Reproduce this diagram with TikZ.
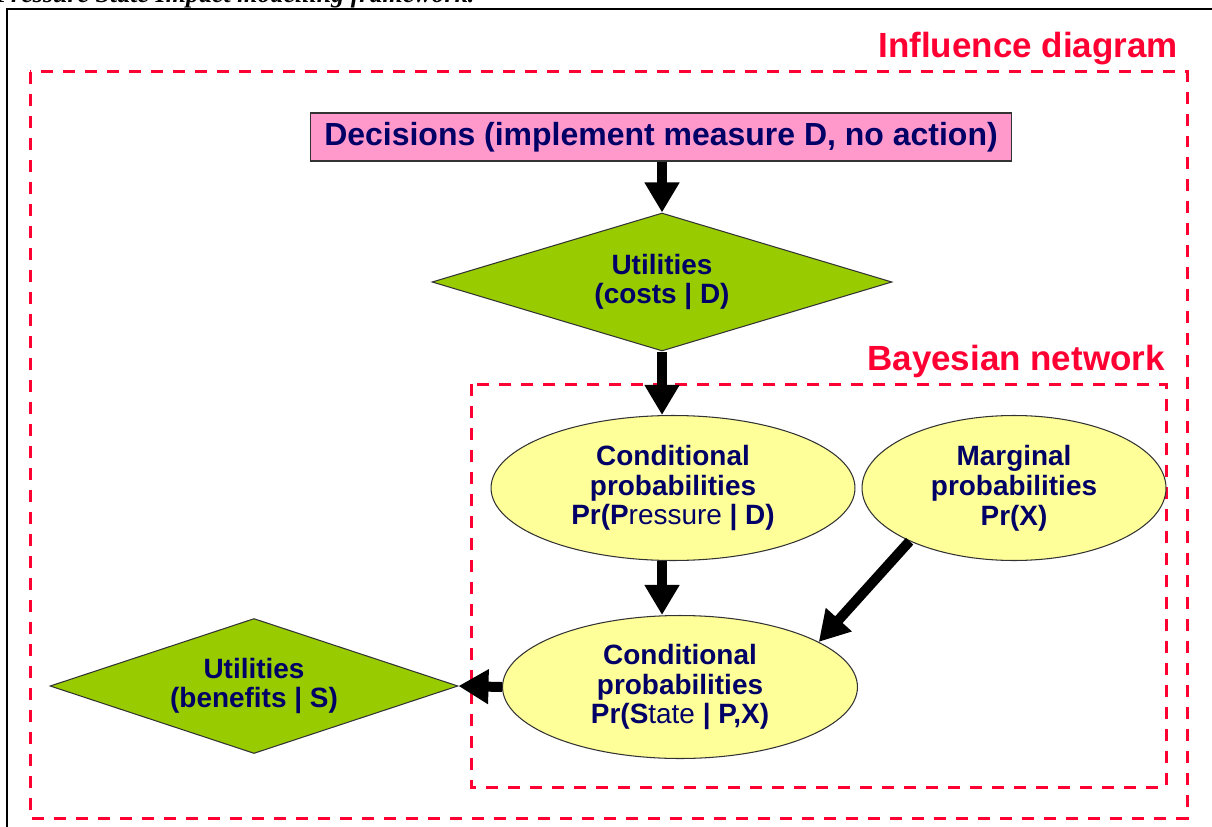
\documentclass[tikz,border=0pt]{standalone}
\usepackage{fontspec}
\setmainfont{Liberation Sans}
\newfontfamily\captionserif{Liberation Serif}
\usetikzlibrary{arrows.meta,shapes.geometric,positioning}
\definecolor{boxred}{RGB}{255,0,51}
\definecolor{inkblue}{RGB}{0,0,102}
\definecolor{decpink}{RGB}{255,153,204}
\definecolor{utilgreen}{RGB}{153,204,0}
\definecolor{probyellow}{RGB}{255,255,153}
\tikzset{
    node text/.style = {
        text = inkblue,
        font = \bfseries\fontsize{15.9}{17}\selectfont,
        align = center,
        inner sep = 0pt,
        },
    decision/.style = {
        node text,
        rectangle,
        fill = decpink,
        draw = black!80,
        line width = 0.6pt,
        font = \bfseries\fontsize{18.2}{20}\selectfont,
        },
    utility/.style = {
        node text,
        diamond,
        aspect = 3.2,
        fill = utilgreen,
        draw = black!80,
        line width = 0.6pt,
        },
    chance/.style = {
        node text,
        ellipse,
        fill = probyellow,
        draw = black!80,
        line width = 0.6pt,
        },
    net box/.style = {
        draw = boxred,
        line width = 0.06cm,
        dash pattern = on 0.24cm off 0.2cm,
        },
    box label/.style = {
        text = boxred,
        font = \bfseries\fontsize{19.9}{22}\selectfont,
        inner sep = 0pt,
        anchor = base east,
        },
}

\begin{document}
\begin{tikzpicture}
    [
        x = 0.02cm,
        y = -0.02cm,
        link/.style = {-{Triangle[length=0.6cm, width=0.66cm]}, line width=0.2cm},
    ]

    \clip (0,0) rectangle (1212,827);

    % page text and table frame
    \node [anchor=base west, inner sep=0pt, font=\captionserif\bfseries\itshape\fontsize{14.8}{16}\selectfont] (caption) at (-5,3) {Pressure State Impact modelling framework.};
    \draw [line width=0.04cm] (7,830) -- (7,9) -- (1215,9);

    % dashed frames
    \draw [net box] (30,72) rectangle (1187,818);
    \draw [net box] (471,384) rectangle (1166,787);
    \node [box label] (influence) at (1178,58) {Influence diagram};
    \node [box label] (bayes) at (1165,370) {Bayesian network};

    % nodes
    \node [decision, minimum width=14.04cm, minimum height=0.96cm] (dec) at (661,137) {Decisions (implement measure D, no action)};
    \node [utility, minimum width=9.2cm, minimum height=2.76cm] (ucost) at (662,282) {Utilities\\(costs | D)};
    \node [chance, minimum width=7.28cm, minimum height=2.9cm] (cpp) at (673,488) {Conditional\\probabilities\\Pr(P{\mdseries ressure} | D)};
    \node [chance, minimum width=6.08cm, minimum height=2.9cm] (marg) at (1014,488) {Marginal\\probabilities\\Pr(X)};
    \node [chance, minimum width=7.1cm, minimum height=2.86cm] (cstate) at (680,687) {Conditional\\probabilities\\Pr(S{\mdseries tate} | P,X)};
    \node [utility, minimum width=8.16cm, minimum height=2.7cm] (ubenefit) at (254,686) {Utilities\\(benefits | S)};

    % links
    \draw [link] (dec.south -| ucost.north) -- (ucost.north);
    \draw [link] (ucost.south) -- (ucost.south |- cpp.north);
    \draw [link] (ucost.south |- cpp.south) -- (ucost.south |- cstate.north);
    \draw [link] (marg.207) -- (cstate.18);
    \draw [link] (cstate.west) -- (ubenefit.east);
\end{tikzpicture}
\end{document}
